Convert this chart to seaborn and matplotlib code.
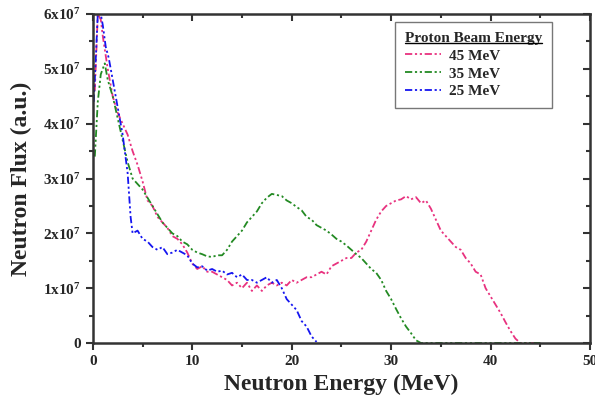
import numpy as np
import pandas as pd
import matplotlib
matplotlib.use("Agg")
import matplotlib.pyplot as plt
import seaborn as sns
from matplotlib.ticker import MultipleLocator, FixedLocator
from matplotlib.lines import Line2D

# ---- data (flux in units of 1e7) ----
e45 = [0.2, 0.5, 0.8, 1.0, 1.5, 2.0, 2.5, 3.0, 3.5, 4.0, 4.5, 5.0, 5.5, 6.0, 6.5, 7.0, 7.5, 8.0, 8.5, 9.0,
       9.5, 10.0, 10.5, 11.0, 11.5, 12.0, 12.5, 13.0, 13.5, 14.0, 14.5, 15.0, 15.5, 16.0, 16.5, 17.0, 17.5,
       18.0, 18.5, 19.0, 19.5, 20.0, 20.5, 21.0, 21.5, 22.0, 22.5, 23.0, 23.5, 24.0, 24.5, 25.0, 25.5, 26.0,
       26.5, 27.0, 27.5, 28.0, 28.5, 29.0, 29.5, 30.0, 30.5, 31.0, 31.5, 32.0, 32.5, 33.0, 33.5, 34.0, 34.5,
       35.0, 35.5, 36.0, 36.5, 37.0, 37.5, 38.0, 38.5, 39.0, 39.5, 40.0, 40.5, 41.0, 41.5, 42.0, 42.5, 43.0,
       44.0, 45.0]
f45 = [4.6, 6.0, 5.9, 5.6, 5.0, 4.5, 4.2, 4.0, 3.8, 3.5, 3.25, 2.95, 2.6, 2.5, 2.3, 2.2, 2.1, 1.95, 1.9, 1.8,
       1.65, 1.45, 1.35, 1.4, 1.3, 1.3, 1.25, 1.2, 1.15, 1.05, 1.1, 1.0, 1.1, 0.95, 1.05, 0.95, 1.05,
       1.1, 1.05, 1.1, 1.05, 1.15, 1.1, 1.15, 1.2, 1.2, 1.25, 1.3, 1.25, 1.4, 1.45, 1.5, 1.55, 1.55,
       1.65, 1.7, 1.85, 2.05, 2.25, 2.4, 2.5, 2.55, 2.6, 2.62, 2.68, 2.62, 2.66, 2.55, 2.6, 2.45, 2.25,
       2.05, 1.95, 1.85, 1.75, 1.7, 1.55, 1.45, 1.3, 1.25, 1.0, 0.85, 0.7, 0.55, 0.38, 0.22, 0.08, 0.0,
       0.0, 0.0]

e35 = [0.2, 0.5, 0.8, 1.2, 1.5, 2.0, 2.5, 3.0, 3.5, 4.0, 4.5, 5.0, 5.5, 6.0, 6.5, 7.0, 7.5, 8.0, 8.5, 9.0,
       9.5, 10.0, 10.5, 11.0, 11.5, 12.0, 12.5, 13.0, 13.5, 14.0, 14.5, 15.0, 15.5, 16.0, 16.5, 17.0, 17.5,
       18.0, 18.5, 19.0, 19.5, 20.0, 20.5, 21.0, 21.5, 22.0, 22.5, 23.0, 23.5, 24.0, 24.5, 25.0, 25.5, 26.0,
       26.5, 27.0, 27.5, 28.0, 28.5, 29.0, 29.5, 30.0, 30.5, 31.0, 31.5, 32.0, 32.5, 33.0, 45.0]
f35 = [3.4, 4.4, 4.9, 5.1, 4.8, 4.5, 4.1, 3.7, 3.3, 3.0, 2.9, 2.8, 2.65, 2.5, 2.35, 2.2, 2.1, 2.0, 1.95, 1.85,
       1.8, 1.7, 1.65, 1.62, 1.58, 1.57, 1.6, 1.6, 1.7, 1.85, 1.95, 2.05, 2.2, 2.3, 2.4, 2.55, 2.65,
       2.72, 2.7, 2.68, 2.6, 2.55, 2.48, 2.42, 2.3, 2.25, 2.15, 2.1, 2.05, 1.98, 1.9, 1.85, 1.78, 1.7,
       1.62, 1.55, 1.45, 1.35, 1.28, 1.15, 0.95, 0.8, 0.62, 0.45, 0.3, 0.18, 0.05, 0.0, 0.0]

e25 = [0.1, 0.3, 0.5, 0.8, 1.0, 1.3, 1.6, 2.0, 2.5, 3.0, 3.5, 3.8, 4.0, 4.5, 5.0, 5.5, 6.0, 6.5, 7.0, 7.5,
       8.0, 8.5, 9.0, 9.5, 10.0, 10.5, 11.0, 11.5, 12.0, 12.5, 13.0, 13.5, 14.0, 14.5, 15.0, 15.5, 16.0,
       16.5, 17.0, 17.5, 18.0, 18.5, 19.0, 19.5, 20.0, 20.5, 21.0, 21.5, 22.0, 22.5]
f25 = [4.4, 5.2, 6.0, 6.0, 5.8, 5.4, 5.2, 4.8, 4.3, 3.8, 3.1, 2.3, 2.0, 2.05, 1.9, 1.85, 1.75, 1.7, 1.75, 1.62,
       1.65, 1.7, 1.65, 1.6, 1.45, 1.38, 1.4, 1.32, 1.35, 1.3, 1.32, 1.25, 1.28, 1.2, 1.25, 1.15, 1.15,
       1.1, 1.15, 1.2, 1.1, 1.15, 1.0, 0.8, 0.7, 0.6, 0.4, 0.3, 0.12, 0.02]

series_labels = ["45 MeV", "35 MeV", "25 MeV"]
colors = ["#e8327f", "#238a23", "#1515f0"]
xticks = [0, 10, 20, 30, 40, 50]
yticks = [0, 1, 2, 3, 4, 5, 6]

sns.set_style("white")
plt.rcParams["font.family"] = ["Liberation Serif", "DejaVu Serif"]
plt.rcParams["font.weight"] = "bold"
plt.rcParams["mathtext.fontset"] = "custom"
plt.rcParams["mathtext.rm"] = "Liberation Serif:bold"
plt.rcParams["mathtext.bf"] = "Liberation Serif:bold"
plt.rcParams["mathtext.it"] = "Liberation Serif:bold"

fig = plt.figure(figsize=(5.95, 4.01), dpi=100)
ax = fig.add_axes([0.156, 0.1446, 0.8356, 0.8204])

dash = (4, 1.5, 1.2, 1.5, 1.2, 1.5)
for xs, ys, lab, c in zip([e45, e35, e25], [f45, f35, f25], series_labels, colors):
    df = pd.DataFrame({"E": xs, "F": np.array(ys) * 1e7})
    sns.lineplot(data=df, x="E", y="F", ax=ax, color=c, lw=1.3, label=lab,
                 estimator=None, sort=False)
for ln in ax.get_lines():
    ln.set_dashes(dash)

ax.set_xlim(0, 50)
ax.set_ylim(0, 6e7)
ax.xaxis.set_major_locator(FixedLocator(xticks))
ax.xaxis.set_minor_locator(MultipleLocator(5))
ax.yaxis.set_major_locator(FixedLocator([v * 1e7 for v in yticks]))
ax.yaxis.set_minor_locator(MultipleLocator(0.5e7))
ax.set_xticklabels([str(v) for v in xticks])
ax.set_yticklabels(["0" if v == 0 else r"$%d\mathrm{x}10^{7}$" % v for v in yticks])

for s in ax.spines.values():
    s.set_color("#333333")
    s.set_linewidth(1.8)
ax.tick_params(which="both", bottom=True, left=True, top=False, right=False,
               labelsize=11, color="#333333", width=1.5, direction="out")
ax.tick_params(axis="both", which="major", length=5)
ax.tick_params(axis="both", which="minor", length=3)
# mirrored ticks inward on top/right
ax2 = ax.secondary_xaxis("top")
ax2.set_xticks(xticks)
ax2.xaxis.set_minor_locator(MultipleLocator(5))
ax2.tick_params(which="both", direction="in", labeltop=False, color="#333333", width=1.5)
ax2.tick_params(which="major", length=5)
ax2.tick_params(which="minor", length=3)
ax3 = ax.secondary_yaxis("right")
ax3.set_yticks([v * 1e7 for v in yticks])
ax3.yaxis.set_minor_locator(MultipleLocator(0.5e7))
ax3.tick_params(which="both", direction="in", labelright=False, color="#333333", width=1.5)
ax3.tick_params(which="major", length=5)
ax3.tick_params(which="minor", length=3)
for a in (ax2, ax3):
    for s in a.spines.values():
        s.set_visible(False)

for lbl in ax.get_xticklabels() + ax.get_yticklabels():
    lbl.set_fontweight("bold")

ax.set_xlabel("Neutron Energy (MeV)", fontsize=17, fontweight="bold", labelpad=4)
ax.set_ylabel("Neutron Flux (a.u.)", fontsize=17, fontweight="bold", labelpad=8)

leg = ax.legend(title="Proton Beam Energy", loc="upper right",
                bbox_to_anchor=(0.9235, 0.9757), borderaxespad=0.0, frameon=True, fancybox=False,
                fontsize=11, title_fontsize=11, handlelength=2.4, handletextpad=0.5,
                borderpad=0.65, labelspacing=0.27, alignment="left")
leg.get_title().set_fontweight("bold")
leg.get_frame().set_edgecolor("#555555")
leg.get_frame().set_linewidth(1.0)
for t in leg.get_texts():
    t.set_fontweight("bold")
for h in leg.get_lines():
    h.set_dashes(dash)

# underline the legend title
fig.canvas.draw()
bb = leg.get_title().get_window_extent(fig.canvas.get_renderer())
bbf = bb.transformed(fig.transFigure.inverted())
y_ul = bbf.y0 + 1.5 / fig.bbox.height
fig.add_artist(Line2D([bbf.x0, bbf.x1], [y_ul, y_ul], transform=fig.transFigure,
                      color="black", lw=1.0))

fig.savefig("out.png", dpi=100)
